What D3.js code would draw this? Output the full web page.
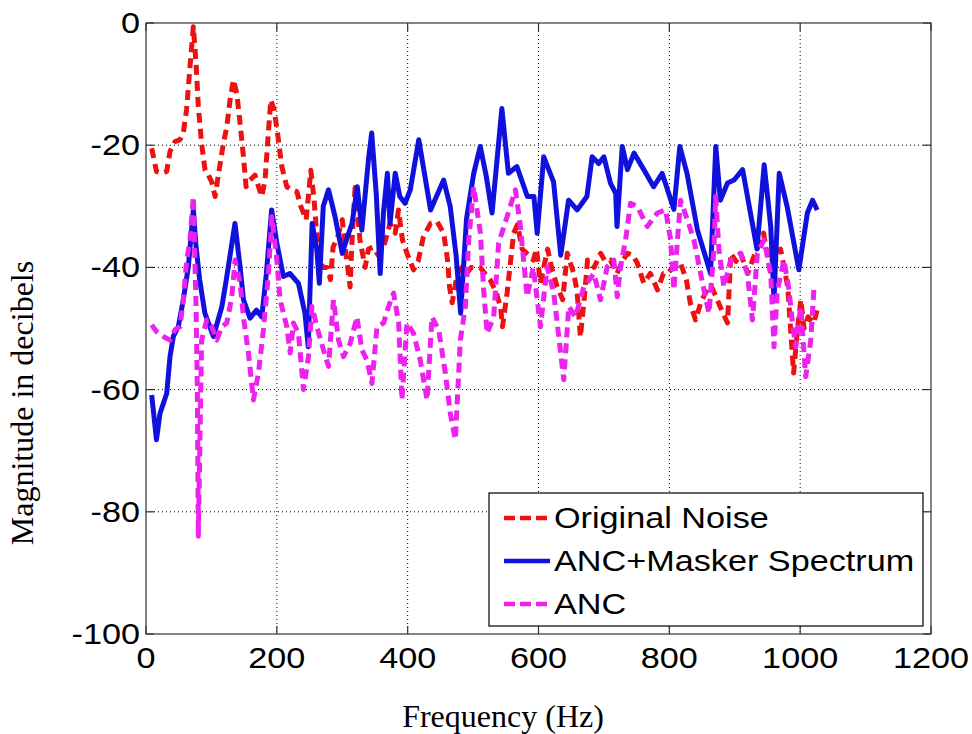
<!DOCTYPE html>
<html lang="en">
<head>
<meta charset="UTF-8">
<title>ANC spectrum</title>
<style>
    html, body { margin: 0; padding: 0; background: #fff; }
    svg { display: block; }
</style>
<script src="https://cdn.jsdelivr.net/npm/d3@7"></script>
</head>
<body>
<svg id="chart" width="972" height="734"></svg>
<script>
// values: [frequency Hz, magnitude dB]
const originalNoise = [
    [8.7,-20.5],[16,-24.3],[24,-24.6],[31.7,-24.3],[36.7,-21],[44.4,-19.4],[52,-19.1],[57,-18],[62,-14.2],[67.3,-7.1],
    [72.4,-0.6],[76.5,-6.6],[80,-13.7],[85,-19.7],[90.3,-24.1],[95.3,-24.9],[100.5,-26],[105.6,-28.4],[110.6,-24.9],[118.3,-19.7],
    [123.5,-17],[128.5,-12.6],[133.6,-9.3],[138.8,-11.5],[143.8,-16.4],[149,-21.9],[153,-26.8],[159,-25.7],[166.8,-24.9],[172,-26.8],
    [177,-28.4],[182,-25.7],[187,-18],[190.8,-12.6],[195.9,-14.2],[201,-18],[207.6,-23.5],[215.3,-26.8],[223,-27.3],[230.6,-27.6],
    [236.7,-30],[244.8,-32.2],[252,-24.1],[257,-29],[262,-36],[270,-40],[277,-40],[282,-42],[286,-36.7],[293,-35],
    [300,-32.2],[306,-38],[312,-43.2],[315,-35.5],[320,-26.2],[327,-35.5],[335,-40],[340,-37],[347,-36.7],[355,-38],
    [365,-36],[373,-32.8],[381,-34.4],[386,-30.6],[392,-35.5],[399,-37.7],[409,-40.4],[416,-39],[424,-35],[435,-32.8],
    [445,-32.5],[455,-34.4],[461,-38.8],[464,-43.2],[468,-45.8],[476,-41],[483,-40],[490,-41],[497,-40],[511,-40],
    [518,-41],[526,-42],[535,-44],[542,-46.5],[545,-49.7],[552,-44.2],[562,-34.4],[568,-33],[575,-37],[585,-38],
    [592,-38.8],[597,-37],[603,-42.6],[608,-40],[614,-37],[620,-40],[628,-43],
    [637,-45.3],[644,-37.7],[654,-41],[659,-44],[664,-51.4],[670,-45],[675,-38.8],[685,-40],[695,-37.7],[702,-39],
    [710,-38.8],[720,-41],[728,-39],[736,-37.7],[744,-38],[751,-39.3],[761,-42.6],[771,-41],[782,-43.7],[791,-41],
    [797,-41],[806,-40],[817,-39.3],[826,-42],[832,-45.8],[840,-48.6],[848,-45.8],[856,-44],[864,-43],[872,-45],
    [880,-47],[889,-49.1],[894,-37.7],[902,-39],[909,-37.7],[920,-41],[930,-38],[940,-35.5],[944,-34.4],[950,-38],
    [955,-41],[962,-39],[970,-37],[981,-43.2],[990,-57.3],[996,-50],[1001,-45.3],[1006,-50],[1012,-48.1],[1021,-49.1],
    [1027,-46.5]
];
const ancMasker = [
    [8.7,-60.9],[16,-68.2],[21.4,-63.9],[31.7,-60.6],[36.7,-54.6],[41.8,-51.3],[49.4,-49.7],[57,-45.3],[64.7,-39.9],[72.4,-30.5],
    [76,-36],[82,-42],[90,-47.5],[103,-51.3],[116,-46.4],[123.5,-41.5],[136,-32.8],[143.8,-39.9],[149,-45.3],[159,-48.3],
    [169,-47],[177,-48.1],[184,-41],[192,-30.6],[200,-36],[210,-41.5],[220,-41],[233,-42.6],[243,-47.5],[248,-53],
    [254,-32.8],[261,-37],[265,-42.6],[271,-30],[279,-27.3],[289,-31.7],[300,-37.7],[308,-35],[315,-32.8],[323,-26.8],
    [330,-33.9],[340,-22.4],[345,-18],[352,-28],[358,-41],[363,-31],[369,-24.6],[373,-32.8],[381,-24.6],[388,-28.4],
    [396,-29.5],[404,-27.3],[417,-19.1],[435,-30.6],[455,-25.7],[465,-30],[474,-38],[481,-47.5],[490,-32],[501,-24.6],
    [511,-20.2],[520,-25],[529,-31.1],[544,-14],[554,-24.6],[567,-23.5],[583,-28.4],[593,-28.4],[598,-34.4],[608,-21.9],
    [623,-26],[634,-38],[646,-29],
    [659,-30.6],[674,-28.4],[682,-21.9],[692,-23],[700,-21.9],[710,-26.2],[718,-27.9],[720,-33.3],[728,-20.2],[736,-24],
    [746,-21.3],[761,-24],[776,-26.8],[789,-24.6],[807,-30.5],[816,-20.2],[827,-24.6],[843,-33.9],[863,-41],[871,-20.2],
    [878,-29],[889,-26.2],[899,-25.7],[912,-24],[924,-31.1],[934,-37],[945,-23.2],[955,-33.3],[960,-45.3],[968,-24.6],
    [980,-30],[998,-40.4],[1011,-31.1],[1019,-29],[1026,-30.6]
];
const ancOnly = [
    [8.7,-49.4],[16,-50.5],[26.5,-51.3],[36.7,-51.9],[44.4,-50.2],[52,-49.7],[57,-45.3],[62.3,-38.8],[67.3,-35.5],[72.4,-28.4],
    [76.5,-46.4],[78.5,-60],[80,-84],[85,-51.9],[92.9,-48.6],[100.5,-49.7],[108.2,-51.9],[115.9,-49.7],[123.5,-49.1],[131.2,-44.8],
    [136.2,-38.8],[143.9,-42.6],[148.9,-48.1],[156.6,-54],[164.2,-61.7],[171.9,-57.3],[179.5,-50.2],[187.2,-41],[192.4,-31.7],[200,-38.8],
    [205,-45.3],[215.3,-49.7],[220.4,-54],[225.4,-49.1],[233.1,-50.8],[240.7,-60],[248.4,-54.6],[253.6,-46.4],[261.2,-49.7],[271.3,-53.5],
    [279,-56.2],[286.6,-45.3],[294.3,-51.9],[301.9,-54.6],[312.2,-52.4],[322.4,-48.1],[330.1,-53.5],[337.8,-55.2],[345.4,-59],[353.1,-49.7],
    [363.2,-49.1],[370.8,-46.4],[378.5,-44.2],[386.2,-49.1],[391.3,-61.7],[399,-49.1],[409,-50.8],[419.3,-55.2],[429.6,-61.7],[437.2,-48.1],
    [447.4,-50.2],[457.6,-57.3],[465.2,-63.9],[472.9,-68.2],[480.5,-51.9],[488.2,-46.4],[493.3,-35.5],[500.9,-26.8],[511.2,-34.4],[516.2,-43.7],
    [521.4,-50.8],[531.5,-48.1],[539.1,-36],[552,-31.7],[564.7,-27.3],[572,-33],[582.6,-44.8],[592,-40],[603,-49.7],[613.2,-39.9],
    [623.3,-44.2],[631,-51.3],[638.6,-58.4],[646.3,-46.4],[656.5,-48.1],[669.2,-43.2],[684.6,-41],[694.8,-45.3],[705,-39.9],[715.2,-38.8],
    [720.4,-44.8],[725.4,-39.9],[733.1,-35.5],[740.7,-29.5],[751,-30],[766.3,-33.3],[781.6,-31.1],[794.3,-30.6],[802,-35.5],[807,-43.7],
    [812.1,-36],[817.2,-29],[827.5,-32.2],[837.6,-35.5],[852.9,-43.7],[860.6,-47.5],[868.2,-37.1],[870.8,-28.4],[875.8,-37],[883.5,-43.2],
    [893.8,-38.8],[909.1,-37.7],[919.3,-41],[927,-48.6],[934.6,-37.7],[944.7,-35.5],[955,-41],[960,-53],[965.2,-43.7],[975.3,-38.8],
    [983,-43.7],[988.2,-49.1],[993.2,-53],[1000.9,-46.4],[1008.5,-57.9],[1016.2,-51.9],[1021.2,-43.2]
];
const xTicks = [0, 200, 400, 600, 800, 1000, 1200];
const yTicks = [0, -20, -40, -60, -80, -100];
const seriesNames = ["Original Noise", "ANC+Masker Spectrum", "ANC"];

const svg = d3.select("#chart");
const plotLeft = 146, plotRight = 931, plotTop = 23, plotBottom = 634;
const x = d3.scaleLinear().domain([0, 1200]).range([plotLeft, plotRight]);
const y = d3.scaleLinear().domain([-100, 0]).range([plotBottom, plotTop]);

// matlab text looks a bit stretched sideways
function axisText(px, py, txt, anchor) {
    svg.append("text")
        .attr("transform", `translate(${px},${py}) scale(1.18,1)`)
        .attr("text-anchor", anchor)
        .attr("font-family", "Liberation Sans, Arial, sans-serif")
        .attr("font-size", 29)
        .attr("fill", "#000")
        .text(txt);
}

svg.append("rect").attr("width", 972).attr("height", 734).attr("fill", "#fff");

// dotted grid
const grid = svg.append("g")
    .attr("stroke", "#000")
    .attr("stroke-width", 1)
    .attr("stroke-dasharray", "1,3");
grid.selectAll("line.gx")
    .data(xTicks.slice(1, -1))
    .join("line")
    .attr("class", "gx")
    .attr("x1", d => x(d)).attr("x2", d => x(d))
    .attr("y1", plotTop).attr("y2", plotBottom);
grid.selectAll("line.gy")
    .data(yTicks.slice(1, -1))
    .join("line")
    .attr("class", "gy")
    .attr("x1", plotLeft).attr("x2", plotRight)
    .attr("y1", d => y(d)).attr("y2", d => y(d));

// curves
const line = d3.line().x(d => x(d[0])).y(d => y(d[1]));
const styles = [
    {data: originalNoise, color: "#ee1111", dash: "10,6"},
    {data: ancMasker, color: "#1111dd", dash: null},
    {data: ancOnly, color: "#ee22ee", dash: "10,6"}
];
styles.forEach(s => {
    svg.append("path")
        .datum(s.data)
        .attr("d", line)
        .attr("fill", "none")
        .attr("stroke", s.color)
        .attr("stroke-width", 5)
        .attr("stroke-linejoin", "round")
        .attr("stroke-dasharray", s.dash);
});

// box and ticks
svg.append("rect")
    .attr("x", plotLeft).attr("y", plotTop)
    .attr("width", plotRight - plotLeft).attr("height", plotBottom - plotTop)
    .attr("fill", "none").attr("stroke", "#333").attr("stroke-width", 1.2);
const tk = svg.append("g").attr("stroke", "#333").attr("stroke-width", 1.2);
xTicks.forEach(v => {
    tk.append("line").attr("x1", x(v)).attr("x2", x(v)).attr("y1", plotBottom).attr("y2", plotBottom - 8);
    tk.append("line").attr("x1", x(v)).attr("x2", x(v)).attr("y1", plotTop).attr("y2", plotTop + 8);
});
yTicks.forEach(v => {
    tk.append("line").attr("x1", plotLeft).attr("x2", plotLeft + 8).attr("y1", y(v)).attr("y2", y(v));
    tk.append("line").attr("x1", plotRight).attr("x2", plotRight - 8).attr("y1", y(v)).attr("y2", y(v));
});

xTicks.forEach(v => axisText(x(v), 668, v, "middle"));
yTicks.forEach(v => axisText(140, y(v) + 10, v, "end"));

// legend
const lg = svg.append("g");
lg.append("rect")
    .attr("x", 489).attr("y", 493).attr("width", 434).attr("height", 133)
    .attr("fill", "#fff").attr("stroke", "#000").attr("stroke-width", 1.2);
const rowY = [518, 561, 604];
styles.forEach((s, i) => {
    lg.append("line")
        .attr("x1", 504).attr("x2", 550)
        .attr("y1", rowY[i]).attr("y2", rowY[i])
        .attr("stroke", s.color).attr("stroke-width", 4.5)
        .attr("stroke-dasharray", s.dash ? "11,5" : null);
    axisText(554, rowY[i] + 10, seriesNames[i], "start");
});

svg.append("text")
    .attr("x", 503).attr("y", 727)
    .attr("text-anchor", "middle")
    .attr("font-family", "Liberation Serif, Times New Roman, serif")
    .attr("font-size", 32)
    .text("Frequency (Hz)");

svg.append("text")
    .attr("transform", "translate(33,403) rotate(-90)")
    .attr("text-anchor", "middle")
    .attr("font-family", "Liberation Serif, Times New Roman, serif")
    .attr("font-size", 32)
    .text("Magnitude in decibels");
</script>
</body>
</html>
